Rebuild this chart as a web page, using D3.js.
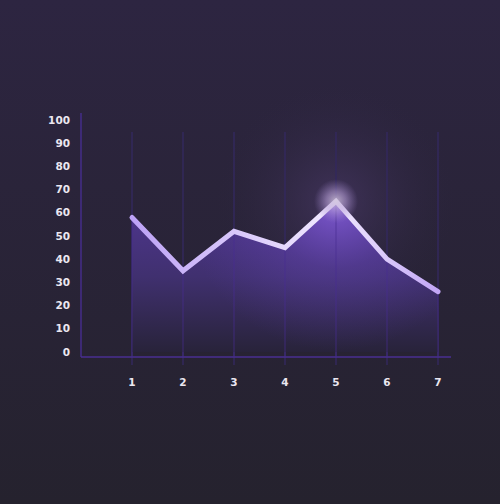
<!DOCTYPE html>
<html>
<head>
  <meta charset='utf-8' />
  <title>Line chart</title>
  <style>
    html, body { margin: 0; padding: 0; }
    body { width: 500px; height: 504px; overflow: hidden; background: #27232f; }
    .tick-label { font: bold 10.5px 'DejaVu Sans', sans-serif; fill: #ebe7f0; }
  </style>
</head>
<body>
<div id='chart'></div>
<script src="https://d3js.org/d3.v7.min.js"></script>
<script>
  // data
  const categories = [1, 2, 3, 4, 5, 6, 7]
  const values = [58, 35, 52, 45, 65, 40, 26]
  const yTicks = [0, 10, 20, 30, 40, 50, 60, 70, 80, 90, 100]

  const W = 500, H = 504
  const svg = d3.select('#chart').append('svg')
    .attr('width', W)
    .attr('height', H)

  const defs = svg.append('defs')

  // background
  const bg = defs.append('linearGradient').attr('id', 'bg')
    .attr('x1', 0).attr('y1', 0).attr('x2', 0).attr('y2', 1)
  bg.append('stop').attr('offset', '0%').attr('stop-color', '#2d2541')
  bg.append('stop').attr('offset', '100%').attr('stop-color', '#25222e')
  svg.append('rect').attr('width', W).attr('height', H).attr('fill', 'url(#bg)')

  const x = d3.scaleLinear().domain([1, 7]).range([132, 438])
  const y = d3.scaleLinear().domain([0, 100]).range([352, 120])

  const peak = values.indexOf(d3.max(values))
  const px = x(categories[peak]), py = y(values[peak])

  // soft halo behind the peak
  const halo = defs.append('radialGradient').attr('id', 'halo')
  halo.append('stop').attr('offset', '0%').attr('stop-color', '#4e3c6e').attr('stop-opacity', 0.6)
  halo.append('stop').attr('offset', '100%').attr('stop-color', '#2d2541').attr('stop-opacity', 0)
  svg.append('circle')
    .attr('cx', px).attr('cy', py)
    .attr('r', 120)
    .attr('fill', 'url(#halo)')

  // vertical grid lines
  svg.append('g').selectAll('line')
    .data(categories)
    .join('line')
    .attr('x1', d => x(d)).attr('x2', d => x(d))
    .attr('y1', 132).attr('y2', 365)
    .attr('stroke', '#33285c')
    .attr('stroke-width', 1.5)

  // axis lines
  svg.append('line')
    .attr('x1', 81).attr('x2', 81).attr('y1', 113).attr('y2', 357)
    .attr('stroke', '#452c8a').attr('stroke-width', 1.5)
  svg.append('line')
    .attr('x1', 81).attr('x2', 451).attr('y1', 357).attr('y2', 357)
    .attr('stroke', '#4a2f92').attr('stroke-width', 1.5)

  // area fill: vertical fade plus a brighter patch around the peak
  const areaGrad = defs.append('linearGradient').attr('id', 'areaGrad')
    .attr('gradientUnits', 'userSpaceOnUse')
    .attr('x1', 0).attr('y1', y(65)).attr('x2', 0).attr('y2', y(0))
  areaGrad.append('stop').attr('offset', '0%').attr('stop-color', '#4f3690')
  areaGrad.append('stop').attr('offset', '50%').attr('stop-color', '#40306f')
  areaGrad.append('stop').attr('offset', '100%').attr('stop-color', '#28233a')

  const areaGlow = defs.append('radialGradient').attr('id', 'areaGlow')
    .attr('gradientUnits', 'userSpaceOnUse')
    .attr('cx', px).attr('cy', py).attr('r', 150)
  areaGlow.append('stop').attr('offset', '0%').attr('stop-color', '#8a62e0').attr('stop-opacity', 0.85)
  areaGlow.append('stop').attr('offset', '45%').attr('stop-color', '#6a48bb').attr('stop-opacity', 0.35)
  areaGlow.append('stop').attr('offset', '100%').attr('stop-color', '#5a3ea8').attr('stop-opacity', 0)

  const pts = categories.map((c, i) => [c, values[i]])
  const area = d3.area().x(d => x(d[0])).y0(y(0)).y1(d => y(d[1]))
  svg.append('path').datum(pts).attr('d', area).attr('fill', 'url(#areaGrad)')
  svg.append('path').datum(pts).attr('d', area).attr('fill', 'url(#areaGlow)')

  // grid lines show faintly through the fill
  svg.append('g').selectAll('line')
    .data(pts)
    .join('line')
    .attr('x1', d => x(d[0])).attr('x2', d => x(d[0]))
    .attr('y1', d => y(d[1])).attr('y2', 356)
    .attr('stroke', '#4a2f92')
    .attr('stroke-opacity', 0.45)
    .attr('stroke-width', 1.5)

  // line, brighter near the peak
  const lineGrad = defs.append('linearGradient').attr('id', 'lineGrad')
    .attr('gradientUnits', 'userSpaceOnUse')
    .attr('x1', x(1)).attr('y1', 0).attr('x2', x(7)).attr('y2', 0)
  lineGrad.append('stop').attr('offset', '0%').attr('stop-color', '#bda2f6')
  lineGrad.append('stop').attr('offset', '66%').attr('stop-color', '#f2eaff')
  lineGrad.append('stop').attr('offset', '100%').attr('stop-color', '#c2a6f6')

  const line = d3.line().x(d => x(d[0])).y(d => y(d[1]))
  svg.append('path').datum(pts)
    .attr('d', line)
    .attr('fill', 'none')
    .attr('stroke', 'url(#lineGrad)')
    .attr('stroke-width', 5)
    .attr('stroke-linejoin', 'miter')
    .attr('stroke-linecap', 'round')

  // glow on the peak
  const glow = defs.append('radialGradient').attr('id', 'glow')
  glow.append('stop').attr('offset', '0%').attr('stop-color', '#d0c4dc').attr('stop-opacity', 0.85)
  glow.append('stop').attr('offset', '45%').attr('stop-color', '#b8a0d8').attr('stop-opacity', 0.55)
  glow.append('stop').attr('offset', '100%').attr('stop-color', '#9a80c8').attr('stop-opacity', 0)
  svg.append('circle')
    .attr('cx', px).attr('cy', py)
    .attr('r', 22)
    .attr('fill', 'url(#glow)')

  // tick labels
  svg.append('g').selectAll('text')
    .data(yTicks)
    .join('text')
    .attr('class', 'tick-label')
    .attr('x', 70)
    .attr('y', d => y(d))
    .attr('dy', '0.35em')
    .attr('text-anchor', 'end')
    .text(d => d)

  svg.append('g').selectAll('text')
    .data(categories)
    .join('text')
    .attr('class', 'tick-label')
    .attr('x', d => x(d))
    .attr('y', 382)
    .attr('dy', '0.35em')
    .attr('text-anchor', 'middle')
    .text(d => d)
</script>
</body>
</html>
